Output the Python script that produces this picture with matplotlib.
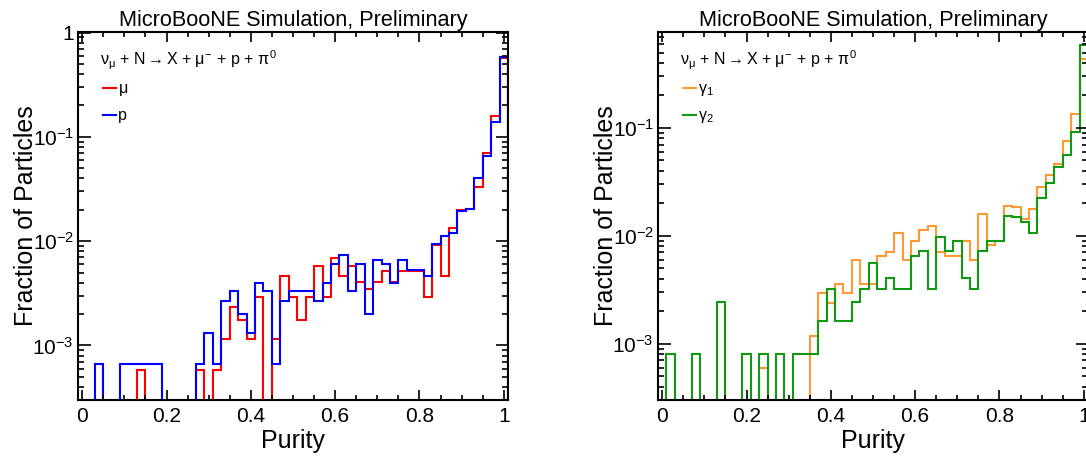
import matplotlib
matplotlib.use("Agg")
import matplotlib.pyplot as plt
import numpy as np
from matplotlib.ticker import FuncFormatter, LogLocator, MultipleLocator

plt.rcParams["font.family"] = ["Liberation Sans", "DejaVu Sans"]
plt.rcParams["mathtext.fontset"] = "custom"
plt.rcParams["mathtext.rm"] = "Liberation Sans"
plt.rcParams["mathtext.it"] = "Liberation Sans"
plt.rcParams["mathtext.bf"] = "Liberation Sans:bold"

# purity bins: 51 bins of width 0.02 centred on 0, 0.02, ..., 1.0
bin_edges = np.linspace(-0.01, 1.01, 52)

# fraction of particles per bin
frac_mu = [0, 0, 0, 0, 0, 0, 0, 5.8e-4, 0, 0,
           0, 0, 0, 0, 5.8e-4, 0, 5.8e-4, 1.16e-3, 2.32e-3, 1.74e-3,
           1.16e-3, 2.9e-3, 0, 1.16e-3, 4.64e-3, 2.9e-3, 1.74e-3, 2.9e-3, 5.8e-3, 2.9e-3,
           6.96e-3, 4.64e-3, 5.8e-3, 4.06e-3, 3.48e-3, 4.06e-3, 5.22e-3, 4.06e-3, 5.22e-3, 5.22e-3,
           5.22e-3, 2.9e-3, 9.28e-3, 4.64e-3, 1.34e-2, 1.97e-2, 2.03e-2, 3.3e-2, 7.0e-2, 0.16,
           0.57]
frac_p = [0, 0, 6.7e-4, 0, 0, 6.7e-4, 6.7e-4, 6.7e-4, 6.7e-4, 6.7e-4,
          0, 0, 0, 0, 6.7e-4, 1.33e-3, 6.7e-4, 2.67e-3, 3.33e-3, 2.0e-3,
          1.33e-3, 4.0e-3, 3.33e-3, 6.7e-4, 2.67e-3, 3.33e-3, 3.33e-3, 3.33e-3, 2.67e-3, 4.0e-3,
          6.0e-3, 7.33e-3, 3.33e-3, 6.0e-3, 2.0e-3, 6.67e-3, 6.0e-3, 4.0e-3, 6.67e-3, 5.33e-3,
          5.33e-3, 4.67e-3, 9.33e-3, 1.13e-2, 1.2e-2, 1.93e-2, 2.05e-2, 4.05e-2, 6.53e-2, 0.138,
          0.58]
frac_g1 = [0, 0, 0, 0, 0, 0, 0, 0, 0, 0,
           0, 0, 5.9e-4, 0, 0, 0, 0, 0, 1.18e-3, 2.95e-3,
           2.36e-3, 3.54e-3, 2.95e-3, 5.9e-3, 3.54e-3, 3.54e-3, 6.5e-3, 7.08e-3, 1.06e-2, 5.9e-3,
           8.85e-3, 1.12e-2, 1.24e-2, 7.08e-3, 6.5e-3, 6.5e-3, 8.85e-3, 5.9e-3, 1.59e-2, 8.26e-3,
           8.85e-3, 1.89e-2, 1.83e-2, 1.42e-2, 1.77e-2, 2.85e-2, 3.66e-2, 4.6e-2, 7.6e-2, 0.135,
           0.44]
frac_g2 = [0, 8.07e-4, 0, 0, 8.07e-4, 0, 0, 2.42e-3, 0, 0,
           8.07e-4, 0, 8.07e-4, 0, 8.07e-4, 0, 8.07e-4, 8.07e-4, 8.07e-4, 1.61e-3,
           3.23e-3, 1.61e-3, 1.61e-3, 2.42e-3, 3.23e-3, 5.65e-3, 3.23e-3, 4.03e-3, 3.23e-3, 3.23e-3,
           6.46e-3, 7.26e-3, 3.23e-3, 9.68e-3, 7.26e-3, 8.87e-3, 4.03e-3, 3.23e-3, 7.26e-3, 8.87e-3,
           8.87e-3, 1.54e-2, 1.49e-2, 1.33e-2, 1.05e-2, 2.22e-2, 3.1e-2, 4.3e-2, 5.56e-2, 9.1e-2,
           0.59]

title = "MicroBooNE Simulation, Preliminary"
process = r"$\nu_{\mu}$ + N$\rightarrow$X + $\mu^{-}$ + p + $\pi^{0}$"

W, H = 1086, 459
fig = plt.figure(figsize=(W / 100, H / 100), dpi=100)
ax1 = fig.add_axes([78 / W, 59 / H, 430 / W, 368.3 / H])
ax2 = fig.add_axes([658 / W, 59 / H, 430 / W, 368.3 / H])


def ylab(v, pos):
    if abs(v - 1) < 1e-9:
        return "1"
    return r"$10^{%d}$" % round(np.log10(v))


def style(ax, ytop):
    ax.set_yscale("log")
    ax.set_xlim(-0.01, 1.01)
    ax.set_ylim(3e-4, ytop)
    for s in ax.spines.values():
        s.set_linewidth(1.5)
    ax.xaxis.set_major_locator(MultipleLocator(0.2))
    ax.xaxis.set_minor_locator(MultipleLocator(0.05))
    ax.xaxis.set_major_formatter(FuncFormatter(lambda v, p: "%g" % round(v, 2)))
    ax.yaxis.set_major_locator(LogLocator(base=10, numticks=10))
    ax.yaxis.set_minor_locator(LogLocator(base=10, subs=np.arange(2, 10), numticks=10))
    ax.yaxis.set_major_formatter(FuncFormatter(ylab))
    ax.tick_params(which="both", direction="in", top=True, right=True, width=1.2, labelsize=15)
    ax.tick_params(axis="x", which="major", length=7, pad=5)
    ax.tick_params(axis="x", which="minor", length=3.5)
    ax.tick_params(axis="y", which="major", length=9, pad=3)
    ax.tick_params(axis="y", which="minor", length=4.5)
    ax.set_title(title, fontsize=15.6, pad=4)
    ax.set_xlabel("Purity", fontsize=18)
    ax.set_ylabel("Fraction of Particles", fontsize=18)
    ax.xaxis.set_label_coords(0.5, -0.08)
    ax.yaxis.set_label_coords(-0.092, 0.5)
    ax.text(0.05, 0.923, process, transform=ax.transAxes, fontsize=11.5, va="center", ha="left")


ax1.stairs(frac_mu, bin_edges, color="#ff0000", lw=1.5, label=r"$\mu$")
ax1.stairs(frac_p, bin_edges, color="#0000ff", lw=1.5, label="p")
style(ax1, 1.02)

ax2.stairs(frac_g1, bin_edges, color="#ff9933", lw=1.5, label=r"$\gamma_{1}$")
ax2.stairs(frac_g2, bin_edges, color="#119911", lw=1.5, label=r"$\gamma_{2}$")
style(ax2, 0.78)

for ax in (ax1, ax2):
    ax.legend(loc="upper left", bbox_to_anchor=(0.058, 0.865), frameon=False, fontsize=11.5,
              handlelength=0.8, handletextpad=0.15, labelspacing=0.62, borderpad=0, borderaxespad=0)

fig.savefig("out.png", dpi=100)
